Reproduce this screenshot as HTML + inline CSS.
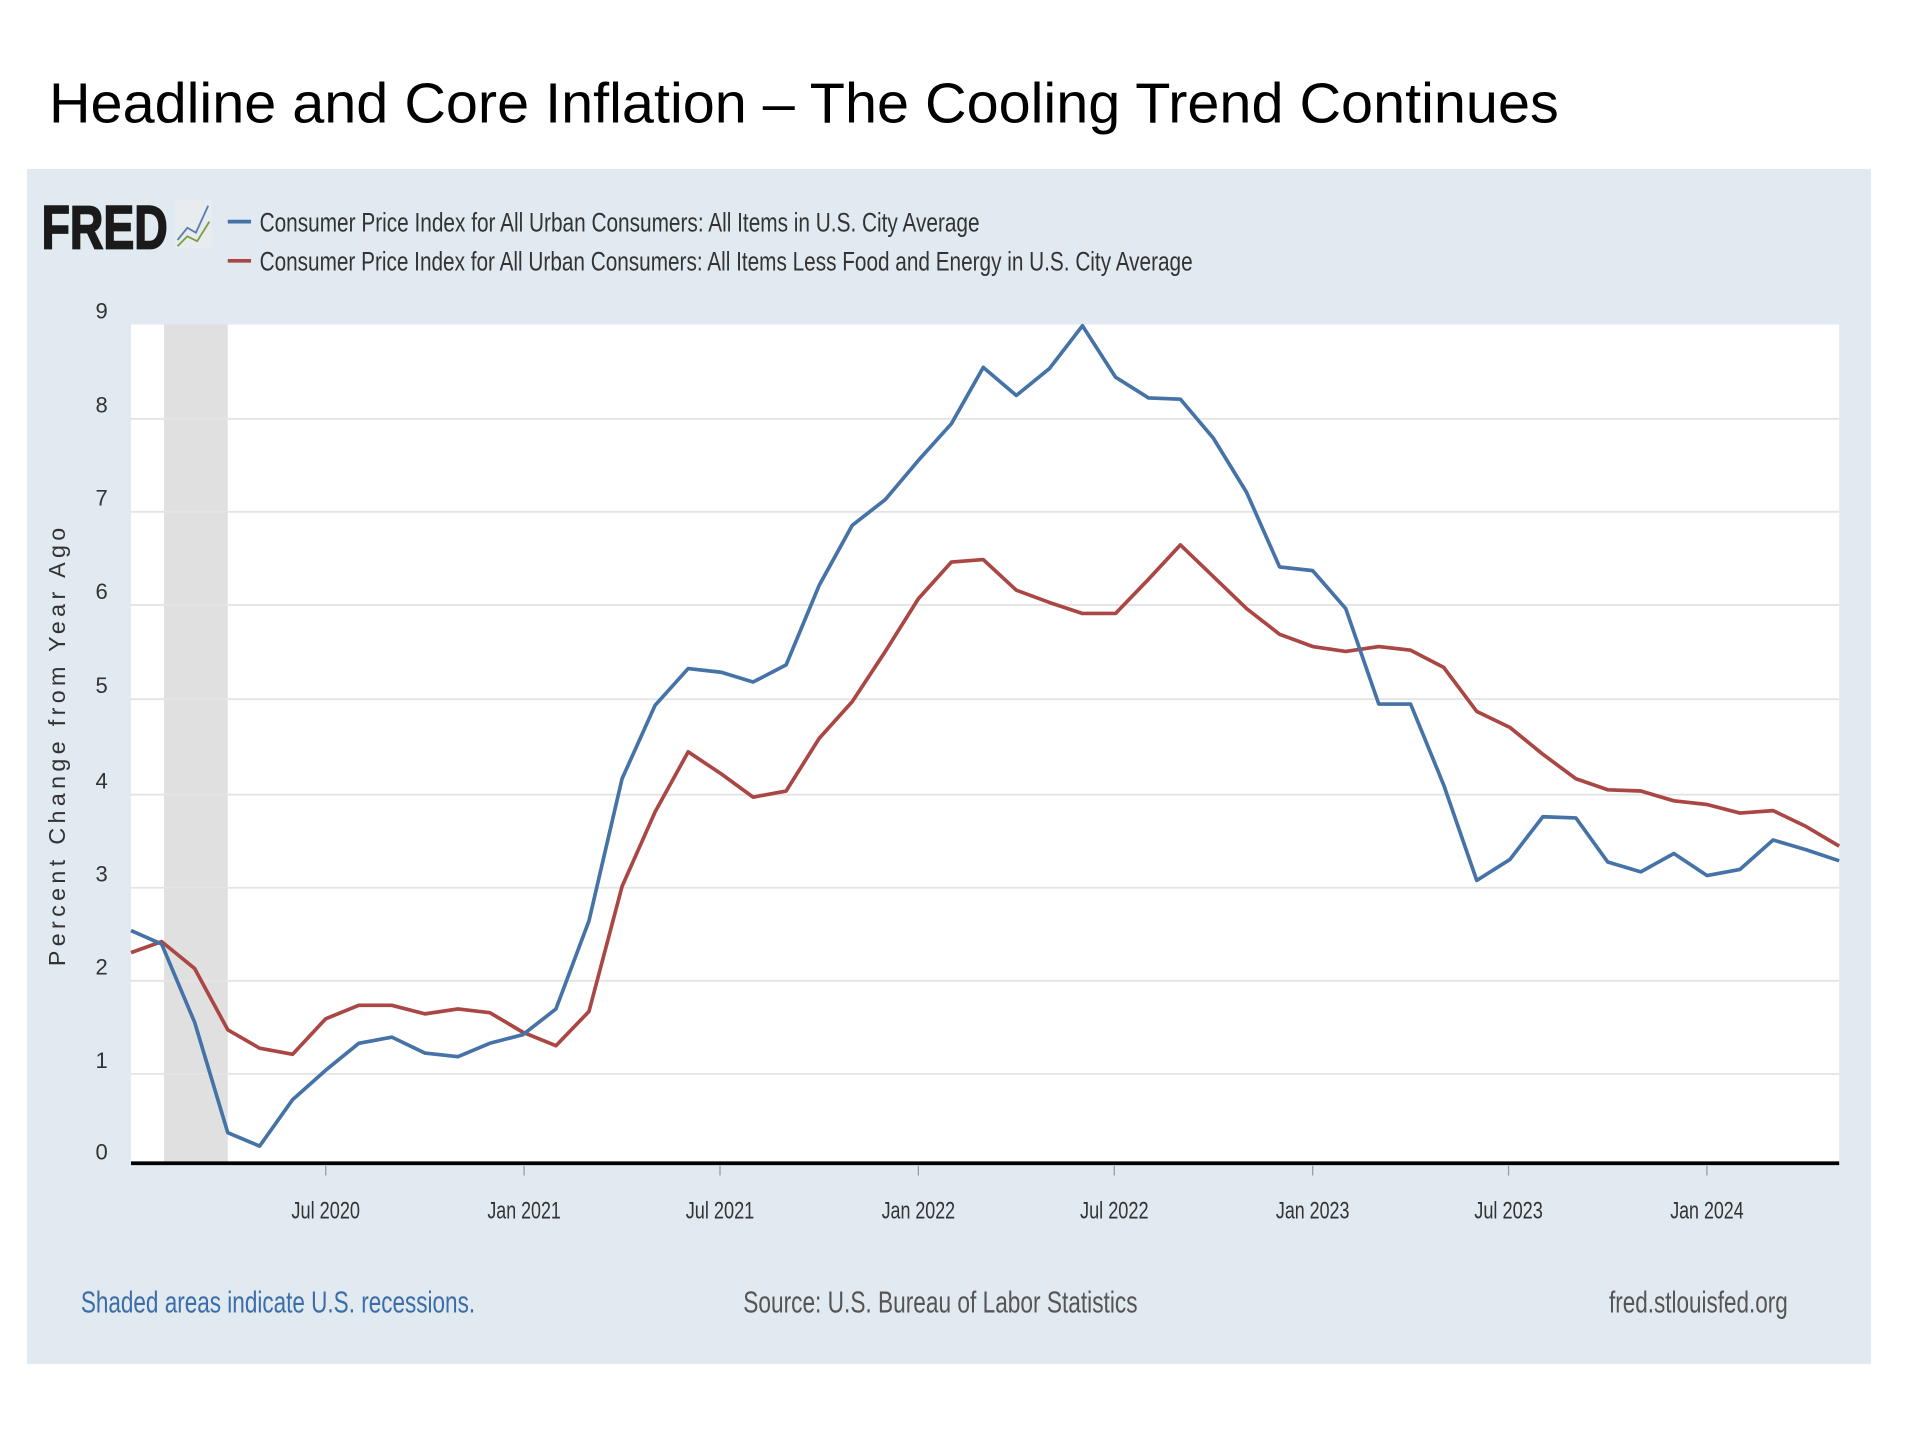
<!DOCTYPE html>
<html><head><meta charset="utf-8"><style>
html,body{margin:0;padding:0;background:#fff;width:1920px;height:1440px;overflow:hidden}
svg{display:block}
</style></head><body>
<svg width="1920" height="1440" viewBox="0 0 1568 1176" preserveAspectRatio="none" xmlns="http://www.w3.org/2000/svg">
<rect width="1568" height="1176" fill="#fff"/>
<text x="40" y="100" font-family="Liberation Sans, sans-serif" font-size="46" fill="#000" textLength="1233" lengthAdjust="spacingAndGlyphs">Headline and Core Inflation – The Cooling Trend Continues</text>
<rect x="22" y="138" width="1506" height="976" fill="#e1e9f1"/>
<text x="34" y="203" font-family="Liberation Sans, sans-serif" font-weight="bold" font-size="50" fill="#1a1a1a" stroke="#1a1a1a" stroke-width="1.5" textLength="103" lengthAdjust="spacingAndGlyphs">FRED</text>
<rect x="143" y="163" width="30" height="40" fill="#e8ecef"/>
<polyline points="145,196 153,186 160,190 170,168" fill="none" stroke="#5a7fb0" stroke-width="1.5"/>
<polyline points="145,201 153,193 161,197 171,181" fill="none" stroke="#7aa040" stroke-width="1.5"/>
<line x1="186" y1="181" x2="205" y2="181" stroke="#4572a7" stroke-width="3"/>
<line x1="186" y1="213" x2="205" y2="213" stroke="#aa4643" stroke-width="3"/>
<g font-family="Liberation Sans, sans-serif" font-size="22" fill="#333">
<text x="212" y="189" textLength="588" lengthAdjust="spacingAndGlyphs">Consumer Price Index for All Urban Consumers: All Items in U.S. City Average</text>
<text x="212" y="221" textLength="762" lengthAdjust="spacingAndGlyphs">Consumer Price Index for All Urban Consumers: All Items Less Food and Energy in U.S. City Average</text>
</g>
<rect x="107" y="265" width="1395" height="685" fill="#fff"/>
<rect x="134" y="265" width="52" height="685" fill="#e0e0e0"/>
<g stroke="#e4e4e4" stroke-width="1.5">
<line x1="107" y1="342" x2="1502" y2="342"/><line x1="107" y1="418" x2="1502" y2="418"/>
<line x1="107" y1="494" x2="1502" y2="494"/><line x1="107" y1="571" x2="1502" y2="571"/>
<line x1="107" y1="649" x2="1502" y2="649"/><line x1="107" y1="725" x2="1502" y2="725"/>
<line x1="107" y1="801" x2="1502" y2="801"/><line x1="107" y1="877" x2="1502" y2="877"/>
</g>
<g font-family="Liberation Sans, sans-serif" font-size="18" fill="#333" text-anchor="middle">
<text x="83" y="260">9</text><text x="83" y="337">8</text><text x="83" y="413">7</text><text x="83" y="489">6</text><text x="83" y="566">5</text><text x="83" y="644">4</text><text x="83" y="720">3</text><text x="83" y="796">2</text><text x="83" y="872">1</text><text x="83" y="947">0</text>
</g>
<text transform="translate(53,610) rotate(-90)" font-family="Liberation Sans, sans-serif" font-size="19" fill="#333" text-anchor="middle" textLength="358" lengthAdjust="spacing">Percent Change from Year Ago</text>
<polyline fill="none" stroke="#aa4643" stroke-width="3" stroke-linejoin="round" points="107,778 132,769 159,791 186,841 212,856 239,861 266,832 293,821 320,821 347,828 374,824 400,827 427,843 454,854 481,826 508,724 535,663 562,614 589,632 615,651 642,646 669,603 696,573 723,532 750,489 777,459 803,457 830,482 857,492 884,501 911,501 938,473 964,445 991,471 1018,497 1045,518 1072,528 1099,532 1126,528 1152,531 1179,545 1206,581 1233,594 1260,616 1287,636 1313,645 1340,646 1367,654 1394,657 1421,664 1448,662 1475,675 1502,691"/>
<polyline fill="none" stroke="#4572a7" stroke-width="3" stroke-linejoin="round" points="107,760 132,771 159,835 186,925 212,936 239,898 266,874 293,852 320,847 347,860 374,863 400,852 427,845 454,824 481,752 508,636 535,576 562,546 589,549 615,557 642,543 669,478 696,429 723,408 750,376 777,346 803,300 830,323 857,301 884,266 911,308 938,325 964,326 991,358 1018,402 1045,463 1072,466 1099,497 1126,575 1152,575 1179,641 1206,719 1233,702 1260,667 1287,668 1313,704 1340,712 1367,697 1394,715 1421,710 1448,686 1475,694 1502,703"/>
<line x1="107" y1="950" x2="1502" y2="950" stroke="#000" stroke-width="3"/>
<g stroke="#999" stroke-width="1">
<line x1="266" y1="952" x2="266" y2="960"/><line x1="428" y1="952" x2="428" y2="960"/><line x1="588" y1="952" x2="588" y2="960"/><line x1="750" y1="952" x2="750" y2="960"/><line x1="910" y1="952" x2="910" y2="960"/><line x1="1072" y1="952" x2="1072" y2="960"/><line x1="1232" y1="952" x2="1232" y2="960"/><line x1="1394" y1="952" x2="1394" y2="960"/>
</g>
<g font-family="Liberation Sans, sans-serif" font-size="20" fill="#333" text-anchor="middle">
<text x="266" y="995" textLength="56" lengthAdjust="spacingAndGlyphs">Jul 2020</text>
<text x="428" y="995" textLength="60" lengthAdjust="spacingAndGlyphs">Jan 2021</text>
<text x="588" y="995" textLength="56" lengthAdjust="spacingAndGlyphs">Jul 2021</text>
<text x="750" y="995" textLength="60" lengthAdjust="spacingAndGlyphs">Jan 2022</text>
<text x="910" y="995" textLength="56" lengthAdjust="spacingAndGlyphs">Jul 2022</text>
<text x="1072" y="995" textLength="60" lengthAdjust="spacingAndGlyphs">Jan 2023</text>
<text x="1232" y="995" textLength="56" lengthAdjust="spacingAndGlyphs">Jul 2023</text>
<text x="1394" y="995" textLength="60" lengthAdjust="spacingAndGlyphs">Jan 2024</text>
</g>
<g font-family="Liberation Sans, sans-serif" font-size="25">
<text x="66" y="1072" fill="#3d6da8" textLength="322" lengthAdjust="spacingAndGlyphs">Shaded areas indicate U.S. recessions.</text>
<text x="607" y="1072" fill="#555" textLength="322" lengthAdjust="spacingAndGlyphs">Source: U.S. Bureau of Labor Statistics</text>
<text x="1314" y="1072" fill="#555" textLength="146" lengthAdjust="spacingAndGlyphs">fred.stlouisfed.org</text>
</g>
</svg>
</body></html>
